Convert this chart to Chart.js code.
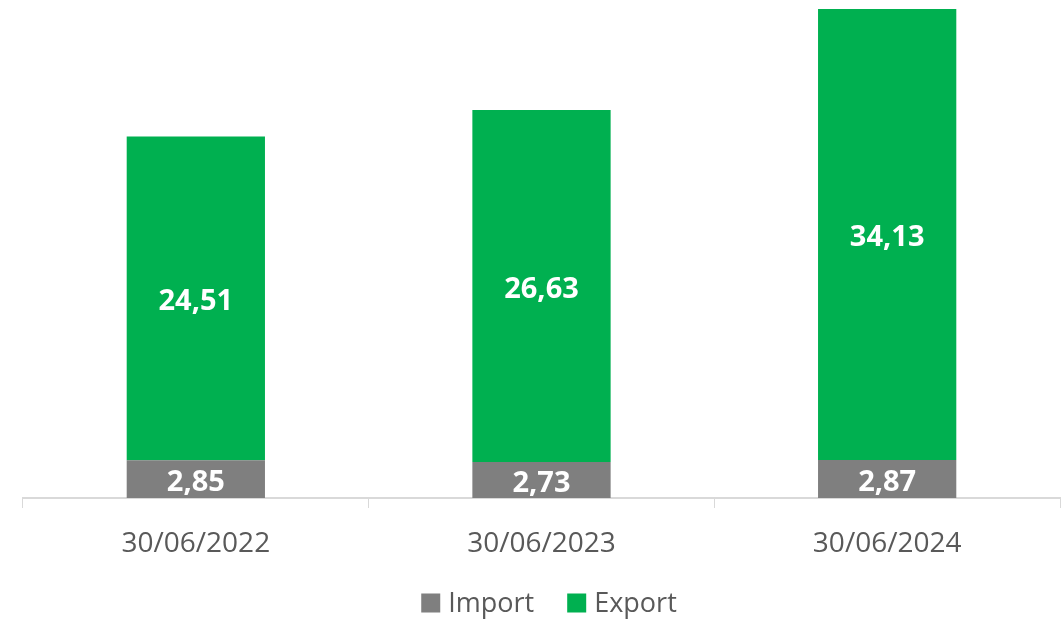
<!DOCTYPE html>
<html>
<head>
<meta charset="utf-8">
<script src="https://cdn.jsdelivr.net/npm/chart.js@4"></script>
<style>
html,body{margin:0;padding:0;background:#fff;}
#wrap{width:1064px;height:619px;position:relative;}
</style>
</head>
<body>
<div id="wrap"><canvas id="c"></canvas></div>
<script>
const categories = ["30/06/2022", "30/06/2023", "30/06/2024"];
const importValues = [2.85, 2.73, 2.87];
const exportValues = [24.51, 26.63, 34.13];
const seriesNames = ["Import", "Export"];
const seriesColors = ["#7f7f7f", "#00b050"];

const fmt = v => v.toFixed(2).replace('.', ',');
const FONT = '"Open Sans", "Noto Sans", sans-serif';

const labelPlugin = {
  id: 'barLabels',
  afterDatasetsDraw(chart) {
    const ctx = chart.ctx;
    ctx.save();
    ctx.fillStyle = '#ffffff';
    ctx.font = 'bold 29px ' + FONT;
    ctx.textAlign = 'center';
    ctx.textBaseline = 'middle';
    chart.data.datasets.forEach((ds, i) => {
      const meta = chart.getDatasetMeta(i);
      meta.data.forEach((bar, j) => {
        const p = bar.getProps(['x', 'y', 'base'], true);
        ctx.fillText(fmt(ds.data[j]), p.x, (p.y + p.base) / 2 + 3.5);
      });
    });
    ctx.restore();
  }
};

const legendPlugin = {
  id: 'customLegend',
  afterDraw(chart) {
    const ctx = chart.ctx;
    ctx.save();
    ctx.font = '27px ' + FONT;
    ctx.textBaseline = 'middle';
    ctx.textAlign = 'left';
    const box = 19, gap = 8, itemGap = 33;
    const items = chart.data.datasets.map(ds => ({ text: ds.label, color: ds.backgroundColor, w: ctx.measureText(ds.label).width }));
    const total = items.reduce((s, it) => s + box + gap + it.w, 0) + itemGap * (items.length - 1);
    let x = (chart.width - total) / 2 + 17;
    const cy = 603;
    items.forEach(it => {
      ctx.fillStyle = it.color;
      ctx.fillRect(x, cy - box / 2, box, box);
      ctx.fillStyle = '#595959';
      ctx.fillText(it.text, x + box + gap, cy + 1);
      x += box + gap + it.w + itemGap;
    });
    ctx.restore();
  }
};

new Chart(document.getElementById('c'), {
  type: 'bar',
  data: {
    labels: categories,
    datasets: [
      { label: seriesNames[0], data: importValues, backgroundColor: seriesColors[0] },
      { label: seriesNames[1], data: exportValues, backgroundColor: seriesColors[1] }
    ]
  },
  options: {
    responsive: true,
    maintainAspectRatio: false,
    animation: false,
    categoryPercentage: 1,
    barPercentage: 0.4,
    layout: { padding: { left: 23, right: 4, top: 9, bottom: 32 } },
    plugins: {
      legend: { display: false },
      tooltip: { enabled: false }
    },
    scales: {
      x: {
        stacked: true,
        afterFit(scale) { scale.height = 89; },
        grid: { display: true, drawOnChartArea: false, drawTicks: true, tickLength: 10, color: '#d9d9d9', offset: true },
        border: { display: true, color: '#d9d9d9', width: 2 },
        ticks: { color: '#595959', padding: 19, font: { family: FONT, size: 28 } }
      },
      y: {
        stacked: true,
        display: false,
        min: 0,
        max: 37
      }
    }
  },
  plugins: [labelPlugin, legendPlugin]
});
</script>
</body>
</html>
